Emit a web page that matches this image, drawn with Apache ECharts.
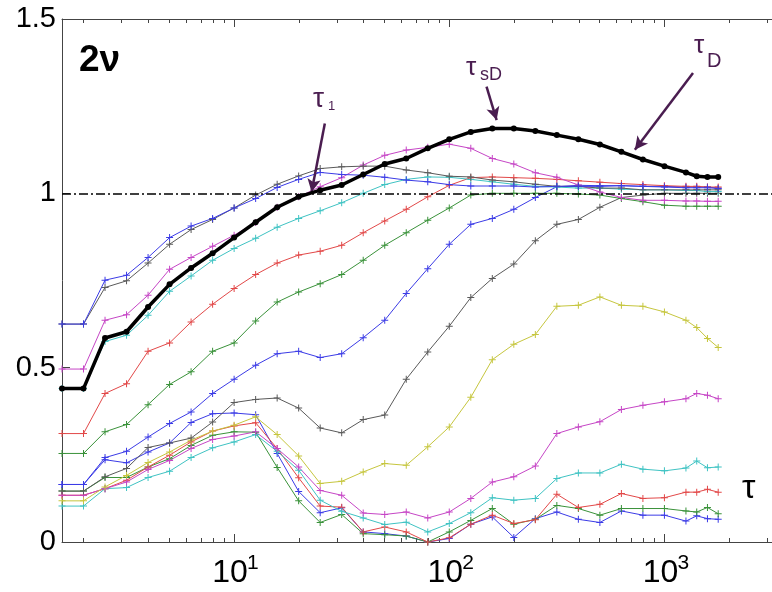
<!DOCTYPE html>
<html><head><meta charset="utf-8">
<script src="https://cdn.jsdelivr.net/npm/echarts@6/dist/echarts.min.js"></script>
<style>html,body{margin:0;padding:0;background:#fff}#c{width:772px;height:592px}</style>
</head><body><div id="c"></div>
<script>
// tau values (x axis, log scale)
const tau = [1.585, 1.995, 2.512, 3.162, 3.981, 5.012, 6.310, 7.943, 10, 12.59, 15.85, 19.95, 25.12, 31.62, 39.81, 50.12, 63.10, 79.43, 100, 125.9, 158.5, 199.5, 251.2, 316.2, 398.1, 501.2, 631.0, 794.3, 1000, 1259, 1413, 1585, 1778];

const blackThick = [0.44, 0.44, 0.585, 0.603, 0.674, 0.739, 0.786, 0.828, 0.873, 0.917, 0.96, 0.99, 1.009, 1.024, 1.054, 1.084, 1.10, 1.129, 1.155, 1.176, 1.186, 1.186, 1.179, 1.167, 1.155, 1.14, 1.119, 1.097, 1.078, 1.06, 1.049, 1.047, 1.047];
const blueTop = [0.625, 0.625, 0.751, 0.765, 0.816, 0.873, 0.906, 0.928, 0.958, 0.985, 1.017, 1.04, 1.06, 1.054, 1.052, 1.046, 1.038, 1.033, 1.025, 1.021, 1.021, 1.021, 1.018, 1.02, 1.02, 1.02, 1.022, 1.02, 1.018, 1.016, 1.016, 1.016, 1.014];
const grayTop = [0.625, 0.625, 0.73, 0.749, 0.80, 0.854, 0.896, 0.925, 0.958, 0.995, 1.026, 1.05, 1.071, 1.076, 1.078, 1.078, 1.067, 1.059, 1.049, 1.047, 1.038, 1.033, 1.026, 1.02, 1.02, 1.015, 1.015, 1.01, 1.01, 1.01, 1.01, 1.01, 1.01];
const magentaTop = [0.496, 0.496, 0.636, 0.652, 0.708, 0.782, 0.816, 0.848, 0.88, 0.916, 0.96, 0.99, 1.019, 1.045, 1.081, 1.109, 1.124, 1.132, 1.141, 1.129, 1.10, 1.084, 1.059, 1.046, 1.024, 1.004, 0.988, 0.98, 0.98, 0.978, 0.978, 0.977, 0.977];
const cyanTop = [0.44, 0.44, 0.575, 0.593, 0.65, 0.719, 0.763, 0.808, 0.842, 0.871, 0.903, 0.928, 0.95, 0.973, 1.0, 1.025, 1.04, 1.047, 1.046, 1.04, 1.033, 1.026, 1.02, 1.018, 1.015, 1.015, 1.012, 1.01, 1.01, 1.008, 1.008, 1.005, 1.005];
const redTop = [0.311, 0.311, 0.426, 0.454, 0.547, 0.571, 0.631, 0.682, 0.727, 0.767, 0.80, 0.823, 0.834, 0.851, 0.887, 0.921, 0.954, 0.99, 1.023, 1.045, 1.047, 1.045, 1.043, 1.04, 1.036, 1.032, 1.028, 1.025, 1.022, 1.02, 1.02, 1.018, 1.018];
const greenTop = [0.254, 0.254, 0.316, 0.337, 0.394, 0.452, 0.488, 0.547, 0.571, 0.634, 0.688, 0.717, 0.741, 0.767, 0.808, 0.851, 0.887, 0.923, 0.958, 0.995, 1.0, 1.0, 1.0, 1.0, 0.998, 0.995, 0.985, 0.976, 0.966, 0.963, 0.963, 0.963, 0.963];
const blueMid = [0.165, 0.165, 0.242, 0.26, 0.301, 0.34, 0.373, 0.426, 0.467, 0.507, 0.54, 0.547, 0.529, 0.54, 0.586, 0.636, 0.713, 0.784, 0.854, 0.911, 0.928, 0.954, 0.988, 1.019, 1.023, 1.022, 1.022, 1.02, 1.02, 1.018, 1.018, 1.018, 1.015];
const grayMid = [0.146, 0.146, 0.187, 0.211, 0.271, 0.284, 0.298, 0.344, 0.40, 0.409, 0.413, 0.384, 0.327, 0.313, 0.351, 0.364, 0.467, 0.545, 0.619, 0.701, 0.756, 0.797, 0.864, 0.911, 0.925, 0.96, 0.988, 0.995, 1.0, 1.0, 1.0, 1.0, 1.0];
const yellow = [0.118, 0.118, 0.158, 0.191, 0.228, 0.258, 0.292, 0.318, 0.335, 0.359, 0.308, 0.247, 0.168, 0.174, 0.201, 0.225, 0.22, 0.273, 0.33, 0.415, 0.523, 0.567, 0.595, 0.676, 0.679, 0.703, 0.679, 0.676, 0.66, 0.636, 0.615, 0.584, 0.558];
const magentaLow = [0.134, 0.134, 0.153, 0.172, 0.208, 0.234, 0.268, 0.294, 0.304, 0.316, 0.268, 0.215, 0.148, 0.134, 0.083, 0.079, 0.086, 0.069, 0.086, 0.125, 0.172, 0.187, 0.218, 0.311, 0.33, 0.345, 0.38, 0.392, 0.402, 0.411, 0.426, 0.421, 0.411];
const cyanLow = [0.103, 0.103, 0.153, 0.156, 0.185, 0.203, 0.242, 0.27, 0.287, 0.308, 0.26, 0.206, 0.12, 0.088, 0.069, 0.05, 0.057, 0.029, 0.053, 0.084, 0.127, 0.12, 0.125, 0.182, 0.198, 0.198, 0.223, 0.209, 0.204, 0.212, 0.232, 0.213, 0.215];
const redLow = [0.134, 0.134, 0.153, 0.177, 0.215, 0.249, 0.287, 0.318, 0.333, 0.342, 0.268, 0.184, 0.103, 0.10, 0.029, 0.043, 0.029, 0.0, 0.012, 0.051, 0.077, 0.053, 0.064, 0.137, 0.099, 0.108, 0.139, 0.125, 0.127, 0.143, 0.143, 0.151, 0.143];
const greenLow = [0.146, 0.146, 0.185, 0.185, 0.215, 0.239, 0.277, 0.306, 0.316, 0.315, 0.214, 0.118, 0.056, 0.079, 0.024, 0.021, 0.017, 0.0, 0.029, 0.062, 0.096, 0.051, 0.065, 0.105, 0.096, 0.077, 0.096, 0.096, 0.096, 0.089, 0.086, 0.099, 0.081];
const blueLow = [0.165, 0.165, 0.236, 0.227, 0.258, 0.284, 0.343, 0.368, 0.37, 0.365, 0.254, 0.145, 0.084, 0.098, 0.029, 0.024, 0.017, 0.0, 0.01, 0.051, 0.072, 0.013, 0.067, 0.086, 0.065, 0.056, 0.089, 0.077, 0.077, 0.06, 0.075, 0.067, 0.065];

const majorTicks = [10, 100, 1000];
const minorTicks = [2,3,4,5,6,7,8,9,20,30,40,50,60,70,80,90,200,300,400,500,600,700,800,900,2000,3000];
const yTicks = [0, 0.5, 1, 1.5];
const refLevel = 1;

// annotation anchors in data space: [tailTau, tailY, tipTau, tipY]
const arrowTau1 = [26.4, 1.20, 22.9, 1.004];
const arrowTauSD = [149, 1.306, 166, 1.21];
const arrowTauD = [1358, 1.345, 729, 1.125];

const COL = {b:'#3b3be6', g:'#3a923a', r:'#e24848', c:'#3fc3c3', m:'#c646c6', y:'#c6c63e', k:'#5a5a5a'};
const PLUS = 'path://M3,0H4V7H3ZM0,3H7V4H0Z';
const FONT = '"Liberation Sans", Arial, Helvetica, sans-serif';
const PURPLE = '#4a1d50';

function thin(name, vals, color) {
  return {
    name, type: 'line', data: vals.map((v, i) => [tau[i], v]),
    symbol: PLUS, symbolSize: 7, showSymbol: true,
    itemStyle: {color}, lineStyle: {color, width: 1}, clip: true, z: 2
  };
}
function arrow(a) {
  return [
    {coord: [a[0], a[1]], symbol: 'none', lineStyle: {color: PURPLE, width: 2.5, type: 'solid'}},
    {coord: [a[2], a[3]], symbol: 'arrow', symbolSize: [10, 13]}
  ];
}

const series = [
  thin('blueLow', blueLow, COL.b),
  thin('greenLow', greenLow, COL.g),
  thin('redLow', redLow, COL.r),
  thin('cyanLow', cyanLow, COL.c),
  thin('magentaLow', magentaLow, COL.m),
  thin('yellow', yellow, COL.y),
  thin('grayMid', grayMid, COL.k),
  thin('blueMid', blueMid, COL.b),
  thin('greenTop', greenTop, COL.g),
  thin('redTop', redTop, COL.r),
  thin('cyanTop', cyanTop, COL.c),
  thin('magentaTop', magentaTop, COL.m),
  thin('grayTop', grayTop, COL.k),
  thin('blueTop', blueTop, COL.b),
  {
    name: 'black', type: 'line', data: blackThick.map((v, i) => [tau[i], v]),
    symbol: 'circle', symbolSize: 6, itemStyle: {color: '#000'},
    lineStyle: {color: '#000', width: 3.5}, z: 5,
    markLine: {
      silent: true, animation: false, label: {show: false}, symbol: ['none', 'none'],
      data: [
        {yAxis: refLevel, lineStyle: {color: '#000', width: 1.6, type: [9, 3, 2, 3]}},
        arrow(arrowTau1), arrow(arrowTauSD), arrow(arrowTauD)
      ]
    }
  }
];

// labelKind: 'base' -> "10", 'exp' -> exponent superscript, null -> none
function logAxis(pos, ticks, len, showLine, labelKind) {
  let axisLabel = {show: false};
  if (labelKind === 'base') {
    axisLabel = {
      show: true, customValues: majorTicks, margin: 15,
      formatter: () => '10',
      fontSize: 32, lineHeight: 32, fontFamily: FONT, color: '#000',
      padding: [0, 8, 0, 0]
    };
  } else if (labelKind === 'exp') {
    axisLabel = {
      show: true, customValues: majorTicks, margin: 11, align: 'left',
      formatter: v => String(Math.round(Math.log10(v))),
      fontSize: 21, lineHeight: 21, fontFamily: FONT, color: '#000',
      padding: [0, 0, 0, 13]
    };
  }
  return {
    type: 'log', logBase: 10, position: pos, min: Math.pow(10, 0.2), max: Math.pow(10, 3.5),
    axisLine: {show: showLine, lineStyle: {color: '#444', width: 1}},
    axisTick: {show: true, inside: true, length: len, customValues: ticks, lineStyle: {color: '#444', width: 1}},
    axisLabel,
    splitLine: {show: false}, minorTick: {show: false}
  };
}

const chart = echarts.init(document.getElementById('c'), null, {renderer: 'canvas'});
chart.setOption({
  animation: false,
  backgroundColor: '#fff',
  grid: {left: 62, right: 0, top: 19, bottom: 50, containLabel: false},
  xAxis: [
    logAxis('bottom', majorTicks, 8, true, 'base'),
    logAxis('bottom', minorTicks, 4, false, 'exp'),
    logAxis('top', majorTicks, 8, true, null),
    logAxis('top', minorTicks, 4, false, null)
  ],
  yAxis: {
    type: 'value', min: yTicks[0], max: yTicks[yTicks.length - 1], interval: 0.5,
    axisLine: {show: true, lineStyle: {color: '#444', width: 1}},
    axisTick: {show: true, inside: true, length: 8, lineStyle: {color: '#444'}},
    axisLabel: {fontSize: 29, fontFamily: FONT, color: '#000', margin: 6,
      formatter: v => String(v)},
    splitLine: {show: false}
  },
  series,
  graphic: [
    {type: 'text', x: 79, y: 61, style: {text: '2ν', font: 'bold 37px ' + FONT, fill: '#000', verticalAlign: 'middle'}},
    {type: 'text', x: 742, y: 489, style: {text: 'τ', font: '34px ' + FONT, fill: '#000', verticalAlign: 'middle'}},
    {type: 'text', x: 313, y: 99, style: {text: 'τ', font: '28px ' + FONT, fill: PURPLE, verticalAlign: 'middle'}},
    {type: 'text', x: 328, y: 106, style: {text: '1', font: '13px ' + FONT, fill: PURPLE, verticalAlign: 'middle'}},
    {type: 'text', x: 466, y: 68, style: {text: 'τ', font: '26px ' + FONT, fill: PURPLE, verticalAlign: 'middle'}},
    {type: 'text', x: 480, y: 75, style: {text: 'sD', font: '18px ' + FONT, fill: PURPLE, verticalAlign: 'middle'}},
    {type: 'text', x: 694, y: 46, style: {text: 'τ', font: '26px ' + FONT, fill: PURPLE, verticalAlign: 'middle'}},
    {type: 'text', x: 707, y: 61, style: {text: 'D', font: '20px ' + FONT, fill: PURPLE, verticalAlign: 'middle'}}
  ]
});
</script></body></html>
